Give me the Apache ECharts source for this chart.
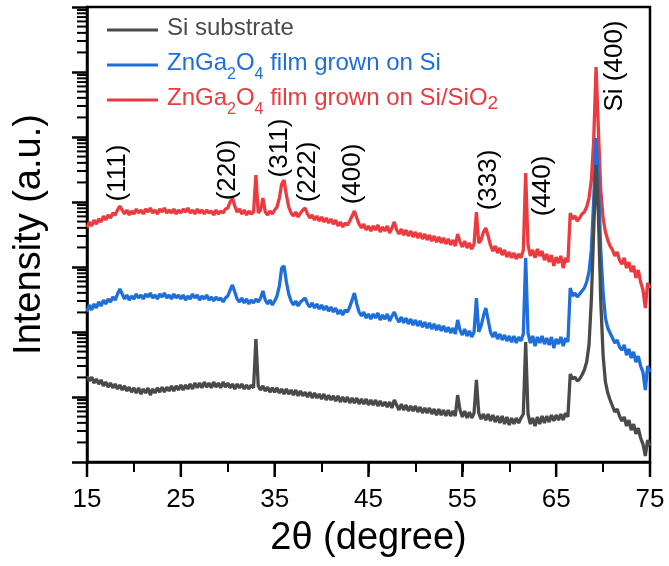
<!DOCTYPE html>
<html><head><meta charset="utf-8">
<script src="https://cdn.jsdelivr.net/npm/echarts@6/dist/echarts.min.js"></script>
<style>html,body{margin:0;padding:0;background:#fff}#c{width:669px;height:566px}</style>
</head><body><div id="c"></div>
<script>
const twoTheta = [
15,15.25,15.5,15.75,16,16.25,16.5,16.75,17,17.25,17.5,17.75,18,18.25,18.5,18.75,19,19.25,19.5,19.75,
20,20.25,20.5,20.75,21,21.25,21.5,21.75,22,22.25,22.5,22.75,23,23.25,23.5,23.75,24,24.25,24.5,24.75,
25,25.25,25.5,25.75,26,26.25,26.5,26.75,27,27.25,27.5,27.75,28,28.25,28.5,28.75,29,29.25,29.5,29.75,
30,30.25,30.5,30.75,31,31.25,31.5,31.75,32,32.25,32.5,32.75,33,33.25,33.5,33.75,34,34.25,34.5,34.75,
35,35.25,35.5,35.75,36,36.25,36.5,36.75,37,37.25,37.5,37.75,38,38.25,38.5,38.75,39,39.25,39.5,39.75,
40,40.25,40.5,40.75,41,41.25,41.5,41.75,42,42.25,42.5,42.75,43,43.25,43.5,43.75,44,44.25,44.5,44.75,
45,45.25,45.5,45.75,46,46.25,46.5,46.75,47,47.25,47.5,47.75,48,48.25,48.5,48.75,49,49.25,49.5,49.75,
50,50.25,50.5,50.75,51,51.25,51.5,51.75,52,52.25,52.5,52.75,53,53.25,53.5,53.75,54,54.25,54.5,54.75,
55,55.25,55.5,55.75,56,56.25,56.5,56.75,57,57.25,57.5,57.75,58,58.25,58.5,58.75,59,59.25,59.5,59.75,
60,60.25,60.5,60.75,61,61.25,61.5,61.75,62,62.25,62.5,62.75,63,63.25,63.5,63.75,64,64.25,64.5,64.75,
65,65.25,65.5,65.75,66,66.25,66.5,66.75,67,67.25,67.5,67.75,68,68.25,68.5,68.75,69,69.25,69.5,69.75,
70,70.25,70.5,70.75,71,71.25,71.5,71.75,72,72.25,72.5,72.75,73,73.25,73.5,73.75,74,74.25,74.5,74.75,
75];

const siSubstrate = [
210,176,203,164, 189,158,183,148, 170,142,164,138, 158,133,153,128, 148,124,142,119,
138,115,138,111, 133,115,138,107, 133,115,138,119, 142,119,142,124, 148,124,148,128,
153,128,153,133, 158,133,164,138, 164,138,170,142, 164,138,170,142, 164,138,170,142,
164,138,158,133, 158,138,158,133, 153,133,153,138, 780,148,128,148, 124,142,119,138,
119,138,115,133, 111,133,111,128, 107,128,104,124, 104,119,100,119, 96.5,115,96.5,111,
93.2,111,89.9,107, 89.9,104,86.8,104, 83.8,100,83.8,100, 80.9,96.5,80.9,96.5, 78,93.2,78,93.2,
75.3,89.9,75.3,89.9, 72.7,86.8,72.7,83.8, 70.1,83.8,67.7,89.9, 75.3,63.1,78,63.1, 75.3,60.9,72.7,60.9,
72.7,58.8,70.1,56.7, 67.7,56.7,67.7,54.8, 65.3,52.8,65.3,52.8, 63.1,51,63.1,51, 60.9,51,107,63.1,
49.3,60.9,47.5,58.8, 47.5,56.7,183,56.7, 45.8,54.8,44.2,54.8, 42.7,52.8,41.2,51, 39.8,51,38.4,49.3,
37.1,47.5,38.4,47.5, 39.8,47.5,54.8,701, 54.8,38.4,47.5,35.8, 49.3,38.4,51,39.8, 51,41.2,52.8,42.7,
52.8,44.2,54.8,44.2, 56.7,49.3,226,189, 203,176,189,218, 260,345,631,3100, 37100,371000,63100,3100,
442,170,115,89.9, 72.7,58.8,65.3,51, 42.7,49.3,35.8,44.2, 31,38.4,27,33.3, 23.4,18.9,12.4,21.8,
17.6];

const znGa2O4OnSi = [
2030,2600,2180,2700, 2340,2900,2510,3100, 2700,3220,2900,3450, 3100,3840,4580,3840, 3220,3710,3100,3580,
3220,3840,3330,3710, 3220,3840,3450,3980, 3330,3710,3220,3840, 3450,3980,3330,3710, 3220,3840,3330,3710,
3220,3710,3100,3580, 3220,3840,3330,3710, 3100,3580,3220,3710, 3100,3450,3000,3450, 3100,3330,2900,3330,
3580,4420,5280,4120, 3220,2900,3330,2800, 3220,2700,3100,2800, 3220,2900,3330,4270, 3100,2700,3100,2600,
3000,3580,5100,9650, 10400,5880,3840,3000, 2600,3000,2510,2900, 3100,3330,2700,2420, 2800,2340,2700,2260,
2600,2180,2510,2100, 2420,2030,2340,1890, 2180,1830,2180,2030, 2420,3100,3980,2700, 2030,1760,2030,1640,
1890,1580,1890,1640, 1960,1530,1830,1580, 1890,1480,1760,2030, 1640,1420,1700,1380, 1640,1330,1580,1280,
1530,1240,1480,1190, 1420,1150,1380,1110, 1330,1070,1280,1040, 1240,1000,1190,965, 1150,932,1530,1070,
899,1110,868,1040, 838,1000,3330,1000, 1240,1760,2340,1530, 1000,838,1000,780, 932,753,899,727,
868,701,868,677, 838,727,932,13800, 965,677,868,609, 838,677,868,653, 809,631,838,567,
780,653,838,609, 809,701,4750,3580, 3980,3450,3840,4270, 4750,5880,8380,18300, 107000,965000,218000,18300,
4120,1640,1150,965, 809,677,753,588, 528,631,442,548, 398,493,345,427, 300,242,128,300,
242];

const znGa2O4OnSiSiO2 = [
39800,49300,42700,52800, 45800,54800,49300,60900, 52800,63100,56700,67700, 63100,75300,86800,75300, 65300,75300,63100,72700,
65300,78000,67700,75300, 65300,78000,70100,80900, 67700,75300,65300,78000, 70100,80900,67700,75300, 67700,78000,65300,75300,
67700,78000,70100,80900, 67700,75300,65300,78000, 67700,75300,65300,75300, 67700,72700,63100,75300, 65300,72700,67700,78000,
80900,100000,115000,86800, 70100,78000,65300,75300, 63100,72700,65300,70100, 260000,67700,75300,115000, 70100,63100,72700,65300,
75300,83800,115000,189000, 218000,128000,83800,67700, 60900,70100,58800,67700, 75300,80900,65300,56700, 63100,52800,60900,51000,
58800,49300,56700,47500, 54800,45800,52800,42700, 49300,41200,47500,44200, 51000,60900,72700,56700, 45800,39800,45800,37100,
42700,35800,42700,37100, 44200,34500,41200,35800, 42700,33300,39800,49300, 37100,32200,38400,31000, 37100,30000,35800,29000,
34500,28000,33300,27000, 32200,26000,31000,25100, 30000,24200,29000,23400, 28000,22600,27000,21800, 26000,21000,32200,24200,
20300,25100,19600,23400, 18900,22600,70100,23400, 26000,34500,39800,30000, 21800,17600,21000,16400, 19600,15300,18300,14200,
17000,13800,16400,13300, 15800,13800,18300,280000, 21800,14800,18300,13800, 18900,14800,17600,12800, 15800,11900,15300,10400,
14200,11500,14800,9650, 13800,11900,67700,54800, 60900,51000,56700,65300, 70100,83800,115000,218000, 899000,11900000,1280000,153000,
56700,34500,26000,21000, 18300,14800,17000,12800, 11100,13800,9650,11900, 8380,10400,6770,8990, 5880,4420,2340,5670,
4750];

const seriesNames = ['Si substrate', 'ZnGa2O4 film grown on Si', 'ZnGa2O4 film grown on Si/SiO2'];
const seriesColors = ['#4a4a4a', '#1f6fdb', '#ec3a3f'];
const xTickLabels = [15, 25, 35, 45, 55, 65, 75];
const yDecades = [10, 100, 1000, 10000, 100000, 1000000, 10000000];
const yMinorMultipliers = [2, 3, 4, 5, 6, 7, 8, 9];
const peakLabels = ['(111)', '(220)', '(311)', '(222)', '(400)', '(333)', '(440)', 'Si (400)'];

// layout (pixel positions of annotation text centres, legend row tops)
const peakLabelPos = [[118,173],[228,170],[280,148],[308,172],[353,174],[489,180],[543,186],[615,66]];
const legendTops = [16, 51, 86];

const FONT = '"Liberation Sans", Arial, Helvetica, sans-serif';
const yMinorTicks = [];
yDecades.forEach(d => yMinorMultipliers.forEach(m => yMinorTicks.push(m * d)));

function pairs(arr) { return twoTheta.map((x, i) => [x, arr[i]]); }

const chart = echarts.init(document.getElementById('c'), null, {renderer: 'canvas'});

const mainStyle = (c) => ({color: c, fontSize: 24, lineHeight: 28, verticalAlign: 'top', fontFamily: FONT});
const subStyle = (c) => ({color: c, fontSize: 16, lineHeight: 16, padding: [16, 0, 0, 0], verticalAlign: 'top', fontFamily: FONT});
const richAll = {
  g: mainStyle(seriesColors[0]),
  b: mainStyle(seriesColors[1]), bs: subStyle(seriesColors[1]),
  r: mainStyle(seriesColors[2]), rs: subStyle(seriesColors[2]),
  rs2: {color: seriesColors[2], fontSize: 19, lineHeight: 19, padding: [8, 0, 0, 0], verticalAlign: 'top', fontFamily: FONT}
};
function legendFormatter(name) {
  if (name === seriesNames[0]) return '{g|Si substrate}';
  if (name === seriesNames[1]) return '{b|ZnGa}{bs|2}{b|O}{bs|4}{b| film grown on Si}';
  return '{r|ZnGa}{rs|2}{r|O}{rs|4}{r| film grown on Si/SiO}{rs2|2}';
}

const option = {
  animation: false,
  backgroundColor: '#fff',
  grid: {left: 87, right: 19, top: 7, bottom: 104, show: true, borderColor: '#000', borderWidth: 2.5, backgroundColor: 'transparent'},
  legend: seriesNames.map((n, i) => ({
    orient: 'vertical', left: 107, top: legendTops[i], padding: 0, itemWidth: 51, itemHeight: 3,
    icon: 'rect', data: [n], selectedMode: false,
    textStyle: {fontSize: 24, fontFamily: FONT, padding: [0, 0, 0, 4], rich: richAll},
    formatter: legendFormatter
  })),
  xAxis: {
    type: 'value', min: 15, max: 75, interval: 5,
    name: '2θ (degree)', nameLocation: 'middle', nameGap: 58,
    nameTextStyle: {fontSize: 38, fontFamily: FONT, color: '#000'},
    axisLine: {show: true, lineStyle: {color: '#000', width: 2.5}},
    axisTick: {show: true, inside: false, length: 10, lineStyle: {color: '#000', width: 2}},
    axisLabel: {show: true, margin: 25, fontSize: 26, fontFamily: FONT, color: '#000',
      formatter: v => xTickLabels.indexOf(v) >= 0 ? String(v) : ''},
    splitLine: {show: false}
  },
  yAxis: {
    type: 'log', logBase: 10, min: 10, max: 100000000,
    name: 'Intensity (a.u.)', nameLocation: 'middle', nameGap: 38,
    nameTextStyle: {fontSize: 38, fontFamily: FONT, color: '#000'},
    axisLine: {show: true, lineStyle: {color: '#000', width: 2.5}},
    axisTick: {show: true, inside: false, length: 15, lineStyle: {color: '#000', width: 2.5}},
    axisLabel: {show: false},
    minorTick: {show: false},
    splitLine: {show: false}
  },
  graphic: peakLabels.map((t, i) => ({
    type: 'text', x: peakLabelPos[i][0], y: peakLabelPos[i][1], rotation: Math.PI / 2, z: 100,
    style: {text: t, fill: '#000', font: '26px ' + FONT, align: 'center', verticalAlign: 'middle'}
  })),
  series: [
    {name: seriesNames[2], type: 'line', data: pairs(znGa2O4OnSiSiO2), showSymbol: false, symbol: 'none',
      lineStyle: {color: seriesColors[2], width: 3.3}, itemStyle: {color: seriesColors[2]}, z: 2},
    {name: seriesNames[1], type: 'line', data: pairs(znGa2O4OnSi), showSymbol: false, symbol: 'none',
      lineStyle: {color: seriesColors[1], width: 3.3}, itemStyle: {color: seriesColors[1]}, z: 3},
    {name: seriesNames[0], type: 'line', data: pairs(siSubstrate), showSymbol: false, symbol: 'none',
      lineStyle: {color: seriesColors[0], width: 3.3}, itemStyle: {color: seriesColors[0]}, z: 4},
    {name: 'yMinorTicks', type: 'custom', silent: true, clip: false, z: 10,
      data: yMinorTicks.map(v => [15, v]),
      renderItem: function (params, api) {
        const p = api.coord([api.value(0), api.value(1)]);
        return {type: 'line', shape: {x1: p[0] - 10, y1: p[1], x2: p[0], y2: p[1]}, style: {stroke: '#000', lineWidth: 2}};
      }},
    {name: 'xMajorTicks', type: 'custom', silent: true, clip: false, z: 10,
      data: xTickLabels.map(v => [v, 10]),
      renderItem: function (params, api) {
        const p = api.coord([api.value(0), api.value(1)]);
        return {type: 'line', shape: {x1: p[0], y1: p[1], x2: p[0], y2: p[1] + 15}, style: {stroke: '#000', lineWidth: 2.5}};
      }}
  ]
};
chart.setOption(option);
</script>
</body></html>
